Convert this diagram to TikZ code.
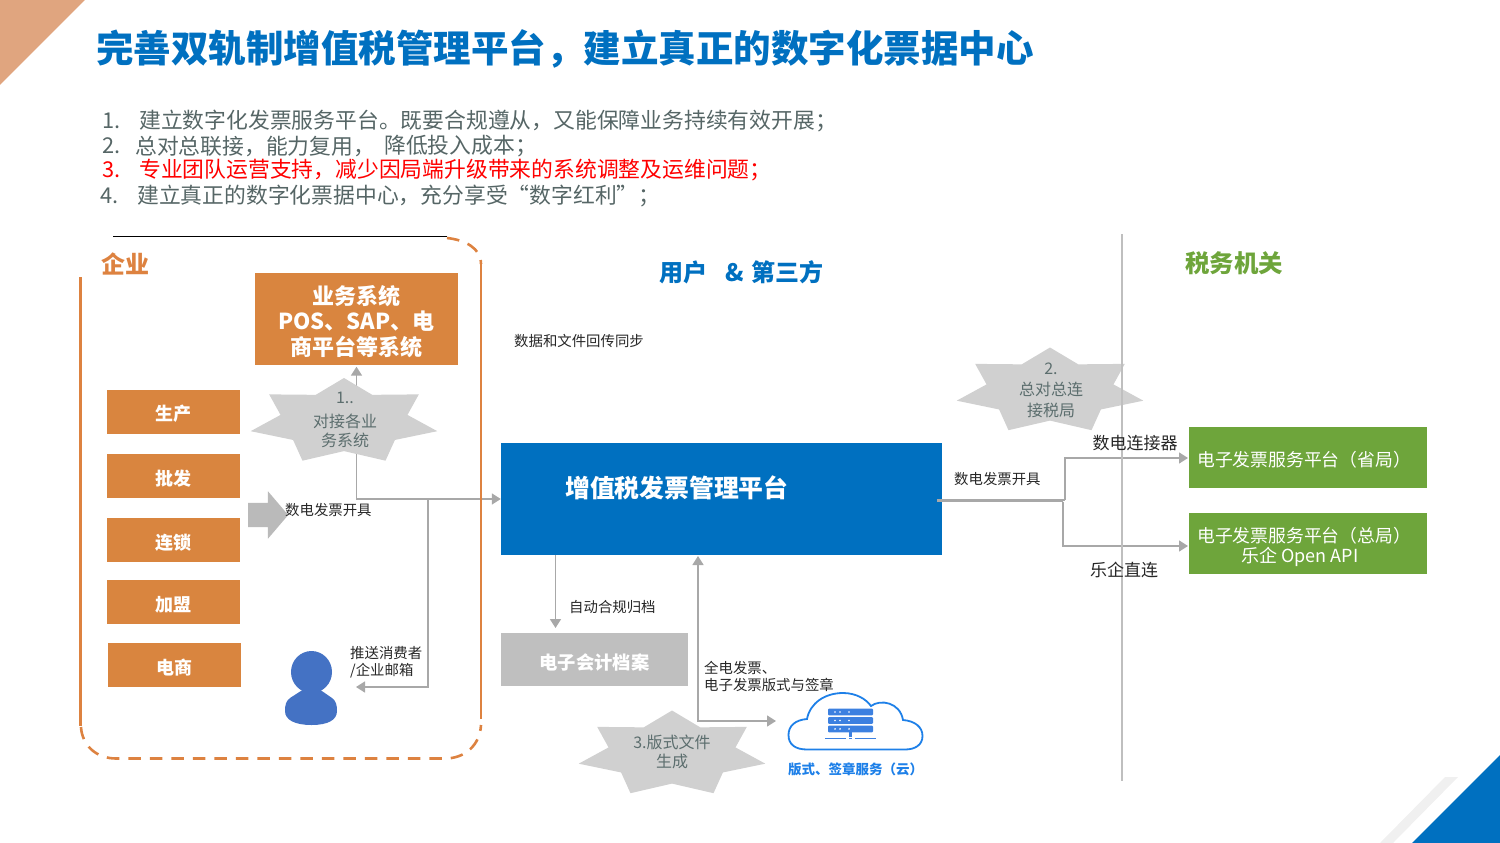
\documentclass[tikz,border=0pt]{standalone}
\usepackage{fontspec}
\setmainfont{Noto Sans CJK SC}
\usetikzlibrary{arrows.meta, positioning, calc, backgrounds, shapes.geometric, shapes.arrows}
\newcommand{\sz}[2]{\fontsize{#1}{#2}\selectfont}
\definecolor{orangebox}{HTML}{D9853F}
\definecolor{orangeline}{HTML}{DD8240}
\definecolor{cornertri}{HTML}{E0A57F}
\definecolor{blueplat}{HTML}{0070C0}
\definecolor{greenbox}{HTML}{6EA53B}
\definecolor{greytext}{HTML}{566666}
\definecolor{burstgrey}{HTML}{D0D0D0}
\definecolor{bursttext}{HTML}{5C6E6E}
\definecolor{flowgrey}{HTML}{A8A8A8}
\definecolor{cloudblue}{HTML}{1E80E8}
\definecolor{serverblue}{HTML}{3C80E0}
\definecolor{personblue}{HTML}{4472C4}

\begin{document}
\begin{tikzpicture}[
    x=1pt, y=-1pt,
    every node/.style={inner sep=0pt, text=black!85},
    orangeblock/.style={fill=orangebox, minimum width=133pt, minimum height=44pt, align=center, text=white, font=\sz{18}{22}\bfseries},
    blocktxt/.style={text=white, font=\sz{18}{22}\bfseries},
    greenblock/.style={fill=greenbox, minimum width=238pt, minimum height=61pt, anchor=north west},
    burst/.style={star, star points=7, star point ratio=1.47, fill=burstgrey, minimum size=87pt, transform shape, xscale=2.2},
    bursttxt/.style={text=bursttext, align=center, font=\sz{16}{19}},
    flow/.style={draw=flowgrey, line width=1.6pt},
    flowtip/.style={flow, -{Triangle[length=9pt,width=11pt]}},
    flowboth/.style={flow, {Triangle[length=9pt,width=11pt]}-{Triangle[length=9pt,width=11pt]}},
    label/.style={font=\sz{14.4}{17}, align=left, anchor=west},
    listline/.style={font=\sz{21.8}{25}, text=greytext, anchor=west},
    heading/.style={font=\sz{24}{27}\bfseries},
    edge orange/.style={draw=orangeline, line width=2.6pt}
]
\useasboundingbox (0,0) rectangle (1500,843);

% Decorations
\fill[cornertri] (0,0) -- (85,0) -- (0,85) -- cycle;
\fill[blueplat] (1412,843) -- (1500,755) -- (1500,843) -- cycle;
\fill[black!6] (1380,843) -- (1445,777) -- (1458,777) -- (1393,843) -- cycle;

\node[anchor=west, text=blueplat, font=\sz{37.5}{40}\bfseries] (title) at (96,49)
    {完善双轨制增值税管理平台，建立真正的数字化票据中心};

\node[listline] (n1) at (102,121) {1.};
\node[listline] (l1) at (139,121) {建立数字化发票服务平台。既要合规遵从，又能保障业务持续有效开展；};
\node[listline] (n2) at (102,146) {2.};
\node[listline] (l2) at (135,146) {总对总联接，能力复用，};
\node[listline] (l2b) at (384,146) {降低投入成本；};
\node[listline, text=red] (n3) at (102,170) {3.};
\node[listline, text=red] (l3) at (139,170) {专业团队运营支持，减少因局端升级带来的系统调整及运维问题；};
\node[listline] (n4) at (100,196) {4.};
\node[listline] (l4) at (137,196) {建立真正的数字化票据中心，充分享受“数字红利”；};

% Enterprise frame
\draw[black, line width=1pt] (113,236) -- (447,236);
\draw[edge orange] (80.5,277) -- (80.5,726);
\draw[edge orange] (481,262) -- (481,719);
\draw[edge orange, dash pattern=on 12.5pt off 9pt]
    (81,727) .. controls (82,745) and (96,758.5) .. (116,758.5) -- (445,758.5)
    .. controls (465,758.5) and (480,745) .. (481,725);
\draw[edge orange, dash pattern=on 12.5pt off 9pt]
    (447,238) .. controls (465,240) and (481,248) .. (481,264);

\node[heading, text=orangeline, anchor=west] (ent) at (101,264) {企业};
\node[heading, text=blueplat, anchor=west] (user) at (659,272) {用户\hspace{18pt}\&\hspace{8pt}第三方};
\node[heading, text=greenbox, anchor=west, font=\sz{24.4}{27}\bfseries] (tax) at (1185,263) {税务机关};

\node[orangeblock, minimum width=203pt, minimum height=92.5pt] (biz) at (356.5,318.75) {};
\node[text=white, align=center, font=\sz{22}{25.5}\bfseries] (biztxt) at (356.5,321.5) {业务系统\\POS、SAP、电\\商平台等系统};

\node[orangeblock] (b1) at (173.5,412) {};
\node[blocktxt] (b1txt) at (173.5,414) {生产};
\node[orangeblock] (b2) at (173.5,476) {};
\node[blocktxt] (b2txt) at (173.5,479) {批发};
\node[orangeblock] (b3) at (173,540) {};
\node[blocktxt] (b3txt) at (173,543) {连锁};
\node[orangeblock] (b4) at (173.5,602) {};
\node[blocktxt] (b4txt) at (173.5,605) {加盟};
\node[orangeblock] (b5) at (174,664.5) {};
\node[blocktxt] (b5txt) at (174.5,668) {电商};

\node[single arrow, single arrow tip angle=99, single arrow head extend=11.5pt, inner ysep=12pt,
      minimum height=40pt, fill=black!27, anchor=west] (bigarrow) at (248,515) {};
\node[label] (issueL) at (285,510) {数电发票开具};

% Platform and archive
\node[fill=blueplat, minimum width=441pt, minimum height=112pt] (platform) at (721.5,499) {};
\node[anchor=west, text=white, font=\sz{24.8}{28}\bfseries] (platformtxt) at (565,488) {增值税发票管理平台};
\node[fill=black!25, minimum width=187pt, minimum height=53pt] (archive) at (594.5,659.5) {};
\node[text=white, font=\sz{18.3}{22}\bfseries] (archivetxt) at (594.5,662) {电子会计档案};

\node[greenblock] (prov) at (1189,427) {};
\node[anchor=west, text=white, font=\sz{17.8}{21}] (provtxt) at (1197,460) {电子发票服务平台（省局）};
\node[greenblock] (hq) at (1189,513) {};
\node[anchor=west, text=white, font=\sz{17.8}{21}] (hqtxt) at (1197,536) {电子发票服务平台（总局）};
\node[text=white, font=\sz{18}{21}] (hqtxtb) at (1300,557) {乐企 Open API};

% Tax border line
\coordinate (sepTop) at (1122,234);
\coordinate (sepBot) at (1122,781);

% Connection points
\coordinate (tapPush) at (428,499);
\coordinate (pushEnd) at (356,687);
\coordinate (outStartA) at (937,500);
\coordinate (outStartB) at (937,501.5);
\coordinate (tapProv) at (1065,500);
\coordinate (tapHq) at (1063,501.5);
\coordinate (provIn) at (1188,458);
\coordinate (hqIn) at (1188,546);
\coordinate (archOut) at (555.5,555);
\coordinate (archIn) at (555.5,628);
\coordinate (platIn) at (698,556);
\coordinate (cloudCorner) at (698,721);
\coordinate (cloudIn) at (776,721);

% Stars
\node[burst] (star1) at (344,421.5) {};
\node[burst] (star2) at (1050,391) {};
\node[burst] (star3) at (672,754) {};
\node[bursttxt] (star1txt) at (345,398) {1..};
\node[bursttxt] (star1txtb) at (345,430.5) {对接各业\\务系统};
\node[bursttxt, font=\sz{16}{21}] (star2txt) at (1051,390) {2.\\总对总连\\接税局};
\node[bursttxt] (star3txt) at (672,752) {3.版式文件\\生成};

\begin{scope}[on background layer]
\draw[flowboth, shorten <=1.5pt] (biz.south) |- (platform.west);
\end{scope}
\draw[flowtip] (tapPush) |- (pushEnd);
\draw[flow] (outStartA) -- (tapProv);
\draw[flow] (outStartB) -- (tapHq);
\draw[flowtip] (tapProv) |- (provIn);
\draw[flowtip] (tapHq) |- (hqIn);
\draw[flowtip] (archOut) -- (archIn);
\draw[flowboth] (platIn) -- (cloudCorner) -- (cloudIn);
\draw[draw=black!25, line width=2.4pt] (sepTop) -- (sepBot);

% Flow labels
\node[label] (syncL) at (514,341) {数据和文件回传同步};
\node[label] (pushL) at (350,662) {推送消费者\\/企业邮箱};
\node[label] (archL) at (569,607) {自动合规归档};
\node[label] (signL) at (704,676) {全电发票、\\电子发票版式与签章};
\node[label] (outL) at (954,479.5) {数电发票开具};
\node[font=\sz{17}{20}] (connL) at (1135,443) {数电连接器};
\node[font=\sz{17}{20}] (directL) at (1124,569.5) {乐企直连};

% Person
\fill[personblue] (311.5,672) ellipse [x radius=20.5, y radius=21];
\fill[personblue] (304,689) -- (290,698) .. controls (286,701) and (285,705) .. (285,711)
    .. controls (285,720) and (295,725) .. (311.5,725) .. controls (328,725) and (337,720) .. (337,711)
    .. controls (337,705) and (336,701) .. (332,698) -- (319,689) -- cycle;

% Cloud
\draw[cloudblue, line width=1.8pt, fill=white] (807,749.5) .. controls (796,749.5) and (788.5,745) .. (788.5,735)
    .. controls (788.5,726) and (795,720) .. (807,719) .. controls (810,703) and (825,693) .. (843,693)
    .. controls (856,693) and (866,699) .. (871,706) .. controls (880,699) and (900,702) .. (903,720)
    .. controls (915,721) and (922.5,727) .. (922.5,736) .. controls (922.5,745) and (915,749.5) .. (905,749.5) -- cycle;
\foreach \yy in {708.7,717.2,725.6} {
    \fill[serverblue, rounded corners=1pt] (828,\yy) rectangle (873,\yy+6.7);
    \foreach \xx in {835,840,849} \fill[white] (\xx,\yy+3.3) circle (0.9);
}
\fill[serverblue] (849,732) rectangle (852,737);
\draw[serverblue, line width=1pt] (825,738.5) -- (846,738.5) (849,738.5) -- (852,738.5) (855,738.5) -- (876,738.5);
\node[text=cloudblue, font=\sz{13.5}{16}\bfseries, anchor=west] (cloudL) at (788,769) {版式、签章服务（云）};
\end{tikzpicture}
\end{document}
